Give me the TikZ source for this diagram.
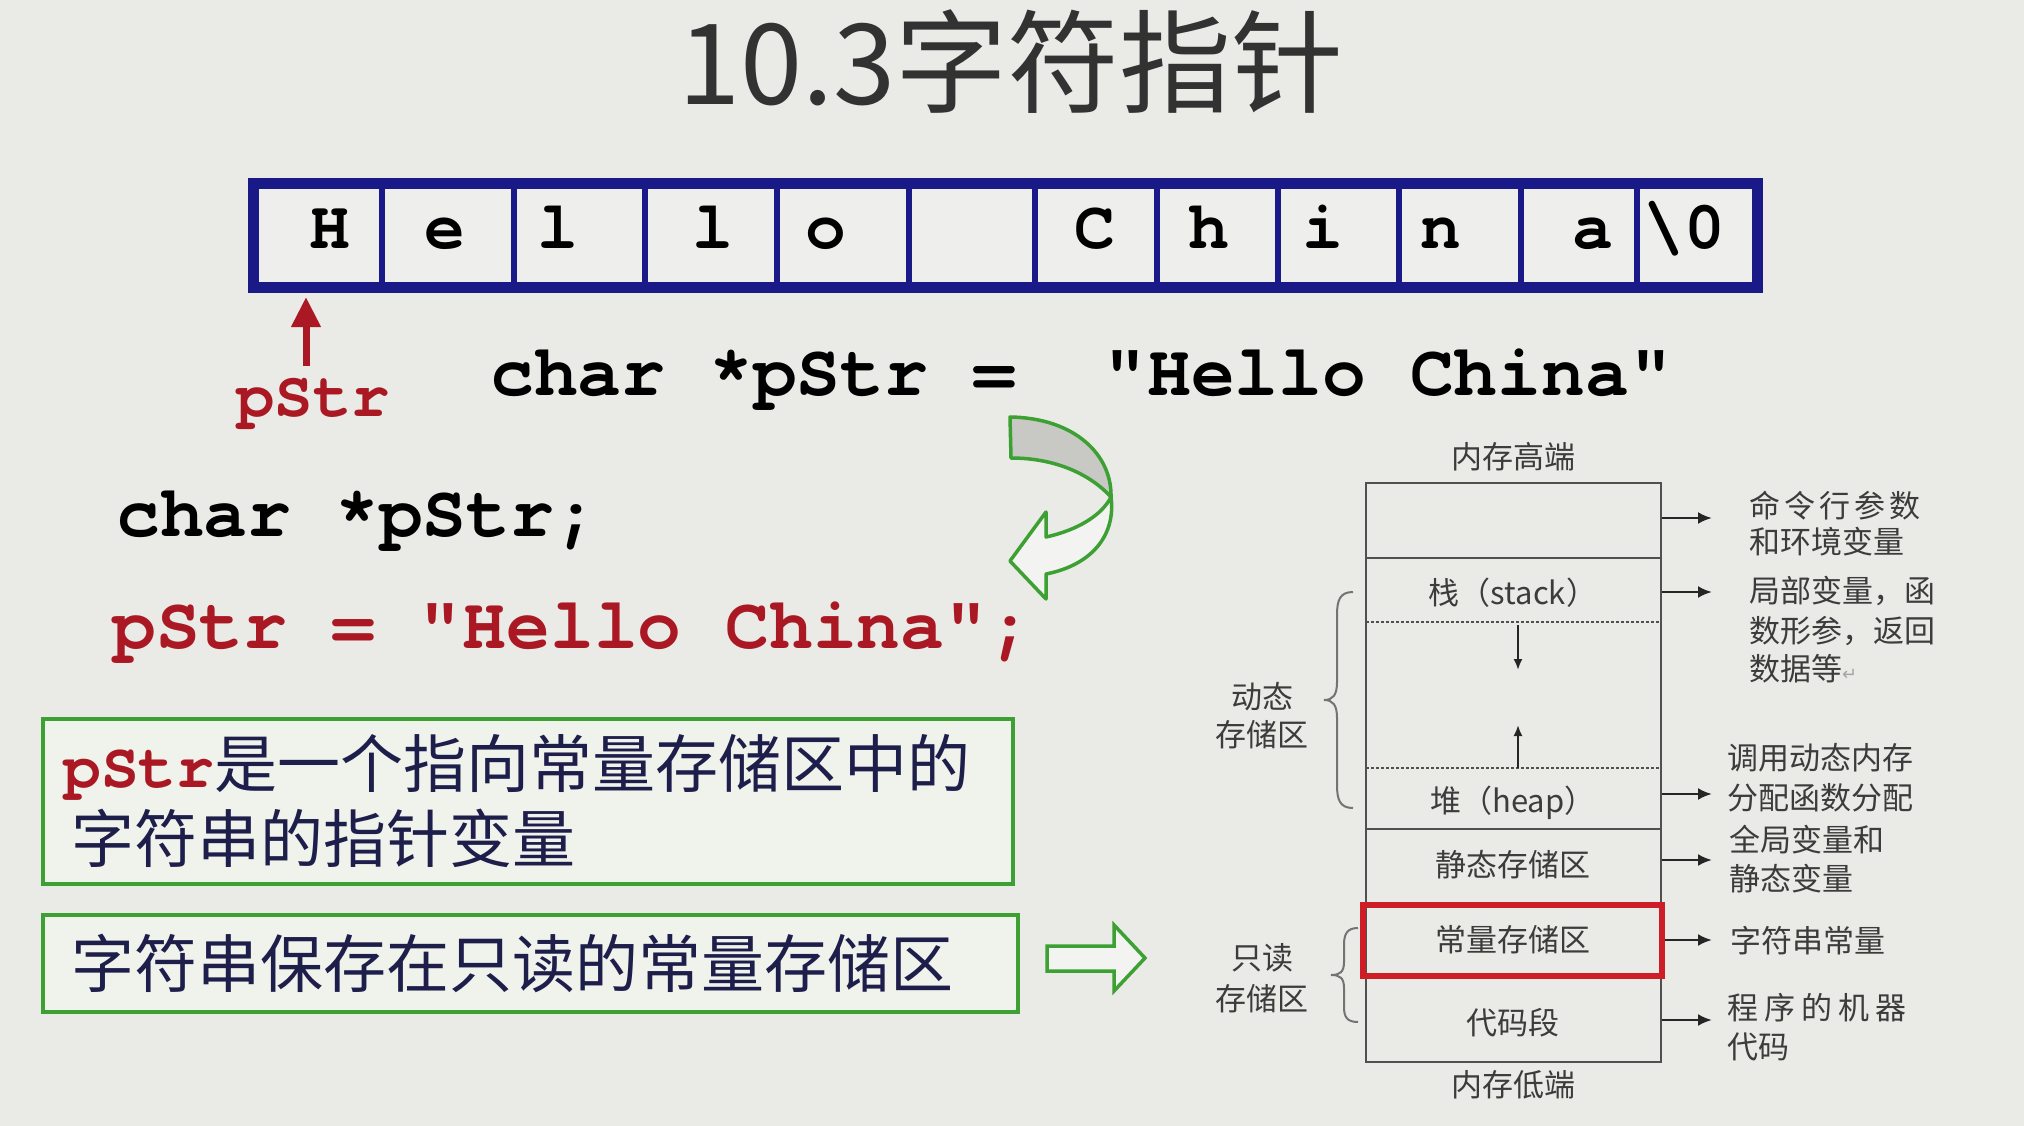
\documentclass[tikz,border=0pt]{standalone}
\usepackage{fontspec}
\setmainfont{Liberation Sans}
\newfontfamily\cjk{Noto Sans CJK SC}
\newfontfamily\codefont{texgyrecursor}[Extension=.otf, UprightFont=*-regular, BoldFont=*-bold]
\newfontfamily\symfont{DejaVu Sans}
\usetikzlibrary{arrows.meta}
\definecolor{bg}{RGB}{234,234,231}
\definecolor{navy}{RGB}{25,25,135}
\definecolor{codered}{RGB}{170,25,35}
\definecolor{grn}{RGB}{60,160,50}
\definecolor{boxfill}{RGB}{240,242,236}
\definecolor{cellfill}{RGB}{238,238,236}
\definecolor{memgray}{RGB}{80,80,80}
\definecolor{memtext}{RGB}{60,60,60}
\definecolor{txtblue}{RGB}{30,30,75}
\definecolor{memred}{RGB}{205,30,40}
\definecolor{titlegray}{RGB}{50,50,50}
\definecolor{ribbongray}{RGB}{200,200,196}
\begin{document}
\begin{tikzpicture}[x=1pt,y=-1pt,
  titletxt/.style={font=\cjk\fontsize{112}{120}\selectfont, text=titlegray, inner sep=0},
  codetxt/.style={font=\codefont\bfseries\fontsize{73}{80}\selectfont, inner sep=0, anchor=base west},
  celltxt/.style={font=\codefont\bfseries\fontsize{68}{72}\selectfont, inner sep=0, anchor=base},
  boxtxt/.style={font=\cjk\fontsize{63}{70}\selectfont, text=txtblue, inner sep=0, anchor=base west},
  gbox/.style={draw=grn, line width=4, fill=boxfill, inner sep=0},
  memtxt/.style={font=\cjk\fontsize{31}{36}\selectfont, text=memtext, inner sep=0},
  rlabel/.style={memtxt, anchor=west},
  memline/.style={draw=memgray, line width=2.5},
  dotline/.style={draw=memgray, line width=1.6, dash pattern=on 3pt off 2pt},
  memarrow/.style={draw=black!85, line width=2.5, -{Latex[length=14pt,width=12pt]}},
  inarrow/.style={draw=black!85, line width=2, -{Latex[length=11pt,width=9pt]}},
  bracepath/.style={draw=black!55, line width=2}
]
\fill[bg] (0,0) rectangle (2024,1126);
\path[use as bounding box] (0,0) rectangle (2024,1126);

% title
\node[titletxt] (title) at (1011,62) {10.3字符指针};

% character array
\node[draw=navy, line width=11, fill=cellfill, minimum width=1504, minimum height=104, inner sep=0] (arr) at (1005.5,235.5) {};
\foreach \x in {382,514,645,777,909,1035,1157,1278,1399,1521,1637}
  \draw[navy, line width=6] (\x,183) -- (\x,288);
\foreach \x/\c/\n in {330/H/c1,445/e/c2,558/l/c3,713/l/c4,826/o/c5,1095/C/c7,1209/h/c8,1323/i/c9,1441/n/c10,1593/a/c11,1684/{\textbackslash0}/c12}
  \node[celltxt] (\n) at (\x,248) {\c};

% pointer
\node[codetxt, text=codered, font=\codefont\bfseries\fontsize{64}{70}\selectfont] (plabel) at (236,416) {pStr};
\coordinate (ptail) at (306,366);
\coordinate (ptip) at (306,297);
\draw[codered, line width=7, -{Triangle[length=30pt,width=28pt]}] (ptail) -- (ptip);

% code lines
\node[codetxt] (decl1) at (490,395) {char *pStr =~~"Hello China"};
\node[codetxt] (decl2) at (116,536) {char *pStr;};
\node[codetxt, text=codered] (assign) at (112,648) {pStr = "Hello China";};

% curved green arrow
\filldraw[draw=grn, fill=ribbongray, line width=3.5, line join=round]
  (1010,417) .. controls (1075,418) and (1112,455) .. (1111,497)
  .. controls (1088,472) and (1052,458) .. (1011,458) -- cycle;
\filldraw[draw=grn, fill=white!45!bg, line width=3.5, line join=round]
  (1111,497) .. controls (1102,515) and (1078,530) .. (1046,537)
  -- (1046,512) -- (1010,561) -- (1046,599) -- (1046,574)
  .. controls (1092,565) and (1116,535) .. (1111,497) -- cycle;

% green boxes
\node[gbox, minimum width=970, minimum height=165] (box1) at (528,801.5) {};
\node[boxtxt] (b1l1) at (63,787) {{\codefont\bfseries\color{codered}pStr}是一个指向常量存储区中的};
\node[boxtxt] (b1l2) at (71,862) {字符串的指针变量};
\node[gbox, minimum width=975, minimum height=97] (box2) at (530.5,963.5) {};
\node[boxtxt] (b2l1) at (71,987) {字符串保存在只读的常量存储区};

% hollow right arrow
\filldraw[draw=grn, fill=white!45!bg, line width=3.5, line join=miter]
  (1047,946) -- (1114,946) -- (1114,925) -- (1145,958) -- (1114,991) -- (1114,971) -- (1047,971) -- cycle;

% memory layout
\node[memline, minimum width=295, minimum height=579, inner sep=0] (mem) at (1513.5,772.5) {};
\draw[memline] (1366,558) -- (1661,558);
\draw[dotline] (1366,622) -- (1661,622);
\draw[dotline] (1366,768) -- (1661,768);
\draw[memline] (1366,829) -- (1661,829);
\draw[memline] (1366,904) -- (1661,904);
\draw[memline] (1366,977) -- (1661,977);
\node[draw=memred, line width=6, minimum width=299, minimum height=71, inner sep=0] (constbox) at (1512.5,940) {};

\node[memtxt] (high) at (1513,457) {内存高端};
\node[memtxt] (stack) at (1513,593) {栈（stack）};
\node[memtxt] (heap) at (1513,803) {堆（heap）};
\node[memtxt] (static) at (1513,865) {静态存储区};
\node[memtxt] (const) at (1513,940) {常量存储区};
\node[memtxt] (codeseg) at (1513,1023) {代码段};
\node[memtxt] (low) at (1513,1085) {内存低端};

\coordinate (dn1) at (1518,625); \coordinate (dn2) at (1518,670);
\coordinate (up1) at (1518,768); \coordinate (up2) at (1518,725);
\draw[inarrow] (dn1) -- (dn2);
\draw[inarrow] (up1) -- (up2);

% right arrows
\foreach \y/\n in {518/a,592/b,794/c,860/d,1020/f}
  \draw[memarrow] (mem.east |- 0,\y) -- (1712,\y);
\draw[memarrow] (constbox.east) -- (1712,940);

% right labels
\node[rlabel] (r1a) at (1749,506) {命\kern4pt令\kern4pt行\kern4pt参\kern4pt数};
\node[rlabel] (r1b) at (1749,542) {和环境变量};
\node[rlabel] (r2a) at (1749,591) {局部变量，函};
\node[rlabel] (r2b) at (1749,631) {数形参，返回};
\node[rlabel] (r2c) at (1749,669) {数据等{\symfont\fontsize{18}{20}\selectfont\color{black!35}↵}};
\node[rlabel] (r3a) at (1727,758) {调用动态内存};
\node[rlabel] (r3b) at (1727,798) {分配函数分配};
\node[rlabel] (r4a) at (1729,840) {全局变量和};
\node[rlabel] (r4b) at (1729,879) {静态变量};
\node[rlabel] (r5a) at (1730,941) {字符串常量};
\node[rlabel] (r6a) at (1727,1008) {程\kern6pt序\kern6pt的\kern6pt机\kern6pt器};
\node[rlabel] (r6b) at (1727,1047) {代码};

% braces and left labels
\draw[bracepath] (1353,592) .. controls (1340,592) and (1337,600) .. (1337,615)
  -- (1337,682) .. controls (1337,695) and (1333,700) .. (1324,700)
  .. controls (1333,700) and (1337,705) .. (1337,718)
  -- (1337,785) .. controls (1337,800) and (1340,808) .. (1353,808);
\draw[bracepath] (1358,928) .. controls (1347,928) and (1344,934) .. (1344,945)
  -- (1344,962) .. controls (1344,972) and (1340,975) .. (1331,975)
  .. controls (1340,975) and (1344,978) .. (1344,988)
  -- (1344,1007) .. controls (1344,1017) and (1347,1022) .. (1358,1022);
\node[memtxt] (dyn1) at (1262,697) {动态};
\node[memtxt] (dyn2) at (1262,735) {存储区};
\node[memtxt] (ro1) at (1262,958) {只读};
\node[memtxt] (ro2) at (1262,999) {存储区};
\end{tikzpicture}
\end{document}
